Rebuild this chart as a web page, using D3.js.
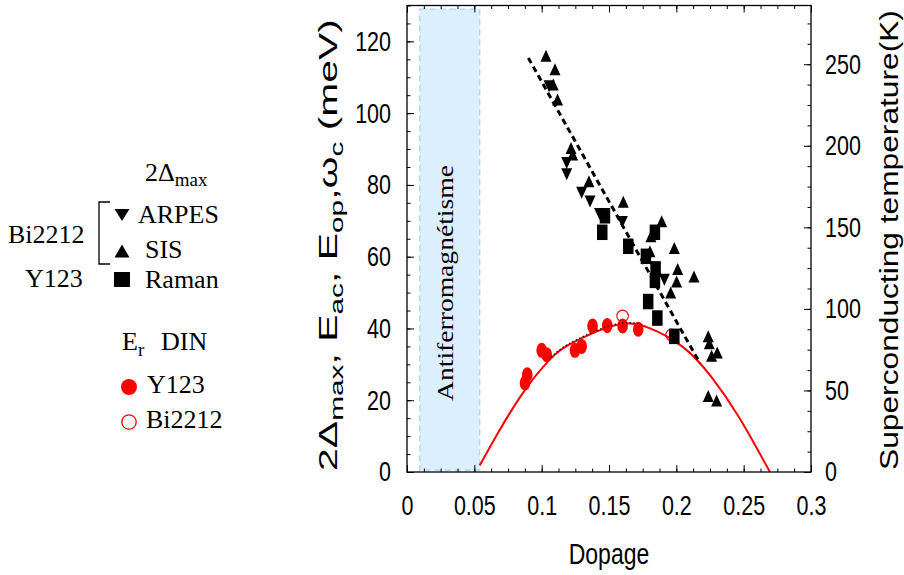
<!DOCTYPE html>
<html>
<head>
<meta charset="utf-8">
<script src="https://cdn.jsdelivr.net/npm/d3@7"></script>
<style>
  body { margin: 0; background: #fff; }
</style>
</head>
<body>
<div id="chart"></div>
<script>
// Tick values
const xTicks = [0, 0.05, 0.1, 0.15, 0.2, 0.25, 0.3];
const yLeftTicks = [0, 20, 40, 60, 80, 100, 120];
const yRightTicks = [0, 50, 100, 150, 200, 250];

// 2Δmax, Bi2212 SIS (up triangles) [doping, meV]
const sisPoints = [
  [0.1032, 116.0], [0.1099, 112.2], [0.1086, 108.0], [0.1118, 103.8],
  [0.1218, 90.3], [0.1230, 88.5], [0.1351, 81.0], [0.1606, 75.3],
  [0.1891, 69.9], [0.1811, 65.7], [0.1985, 62.4], [0.1804, 61.5],
  [0.2010, 56.6], [0.2131, 54.5], [0.2002, 53.1], [0.1958, 50.0],
  [0.2237, 37.8], [0.2245, 35.9], [0.2262, 32.4], [0.2304, 33.3],
  [0.2237, 21.2], [0.2299, 19.9]
];
// 2Δmax, Bi2212 ARPES (down triangles)
const arpesPoints = [
  [0.1055, 107.5], [0.1186, 86.1], [0.1186, 83.0], [0.1297, 77.8],
  [0.1359, 75.4], [0.1430, 71.9], [0.1599, 69.7], [0.1911, 53.6]
];
// 2Δmax, Y123 Raman (squares)
const ramanPoints = [
  [0.1470, 71.4], [0.1450, 66.8], [0.1643, 62.9], [0.1774, 60.1],
  [0.1841, 66.8], [0.1846, 56.6], [0.1841, 53.4], [0.1791, 47.5],
  [0.1859, 42.9], [0.1985, 37.8]
];
// Er DIN
const dinY123 = [
  [0.0893, 27.1], [0.0876, 24.8], [0.1000, 33.9], [0.1037, 32.7],
  [0.1247, 33.9], [0.1297, 35.0], [0.1378, 40.7], [0.1487, 40.8],
  [0.1601, 40.7], [0.1717, 39.8]
];
const dinBi2212 = [[0.1601, 43.5], [0.1965, 38.2]];

// Superconducting dome
const tcDome = [
  [0.054, 1.8], [0.067, 10.5], [0.086, 22.0], [0.106, 31.3], [0.120, 35.4],
  [0.141, 39.2], [0.161, 41.3], [0.180, 40.1], [0.205, 34.8], [0.226, 26.5],
  [0.247, 15.0], [0.2695, 0]
];
// dashed trend of the gap
const gapTrend = [[0.0901, 115.4], [0.2175, 30.3]];
// antiferromagnetic band (doping range)
const afmRange = [0.0095, 0.054];

const width = 904, height = 575;
const pL = 407, pR = 811, pT = 5.5, pB = 472;

const x = d3.scaleLinear().domain([0, 0.3]).range([pL, pR]);
const yL = d3.scaleLinear().domain([0, 130]).range([pB, pT]);
const yR = d3.scaleLinear().domain([0, 286]).range([pB, pT]);

const svg = d3.select("#chart").append("svg")
    .attr("width", width)
    .attr("height", height);

const defs = svg.append("defs");
defs.append("clipPath").attr("id", "plotClip")
  .append("rect")
    .attr("x", pL).attr("y", pT)
    .attr("width", pR - pL).attr("height", pB - pT);
defs.append("clipPath").attr("id", "dotClip")
  .append("rect")
    .attr("x", x(0.106)).attr("y", pT)
    .attr("width", x(0.175) - x(0.106)).attr("height", pB - pT);

function fitRotated(t, cx, cy, len) {
  const b = t.node().getBBox();
  const s = len / b.width;
  t.attr("transform",
    `translate(${cx},${cy}) rotate(-90) scale(${s},1) translate(${-(b.x + b.width / 2)},0)`);
}

// Antiferromagnetic band
svg.append("rect")
    .attr("x", x(afmRange[0]))
    .attr("y", yL(129))
    .attr("width", x(afmRange[1]) - x(afmRange[0]))
    .attr("height", yL(0.5) - yL(129))
    .attr("fill", "#dbefff")
    .attr("stroke", "#a6d8f7")
    .attr("stroke-width", 1.3)
    .attr("stroke-dasharray", "6,4");

const afmText = svg.append("text")
    .attr("font-family", "Liberation Serif, Times New Roman, serif")
    .attr("font-size", 22.5)
    .attr("text-anchor", "middle")
    .text("Antiferromagnétisme");
fitRotated(afmText, 453, 283, 236);

const plot = svg.append("g").attr("clip-path", "url(#plotClip)");

// Dome
const line = d3.line()
    .x(d => x(d[0]))
    .y(d => yL(d[1]))
    .curve(d3.curveNatural);

plot.append("path")
    .datum(tcDome)
    .attr("fill", "none")
    .attr("stroke", "#ff0000")
    .attr("stroke-width", 2)
    .attr("d", line);

// Y123 DIN filled
plot.selectAll(".din-y").data(dinY123).enter().append("ellipse")
    .attr("cx", d => x(d[0]))
    .attr("cy", d => yL(d[1]))
    .attr("rx", 5.3).attr("ry", 7.5)
    .attr("fill", "#ff0000");

// Bi2212 DIN open
plot.selectAll(".din-b").data(dinBi2212).enter().append("circle")
    .attr("cx", d => x(d[0]))
    .attr("cy", d => yL(d[1]))
    .attr("r", 5.8)
    .attr("fill", "none")
    .attr("stroke", "#ff0000")
    .attr("stroke-width", 1.1);

// black dotted segment over the dome
svg.append("path")
    .datum(tcDome)
    .attr("clip-path", "url(#dotClip)")
    .attr("fill", "none")
    .attr("stroke", "#000")
    .attr("stroke-width", 1.3)
    .attr("stroke-dasharray", "1.3,2.5")
    .attr("transform", "translate(0,-1)")
    .attr("d", line);

const triUp = "M0,-6 L5.5,6 L-5.5,6Z";
const triDown = "M0,6 L5.5,-6 L-5.5,-6Z";

plot.selectAll(".arpes").data(arpesPoints).enter().append("path")
    .attr("d", triDown)
    .attr("transform", d => `translate(${x(d[0])},${yL(d[1])})`)
    .attr("fill", "#000");

plot.selectAll(".sis").data(sisPoints).enter().append("path")
    .attr("d", triUp)
    .attr("transform", d => `translate(${x(d[0])},${yL(d[1])})`)
    .attr("fill", "#000");

plot.selectAll(".raman").data(ramanPoints).enter().append("rect")
    .attr("x", d => x(d[0]) - 5.25)
    .attr("y", d => yL(d[1]) - 7.75)
    .attr("width", 10.5).attr("height", 15.5)
    .attr("fill", "#000");

// Dashed trend
plot.append("path")
    .datum(gapTrend)
    .attr("fill", "none")
    .attr("stroke", "#000")
    .attr("stroke-width", 3)
    .attr("stroke-dasharray", "6,4")
    .attr("d", d3.line().x(d => x(d[0])).y(d => yL(d[1])));

// Axes
const xMinor = d3.range(0, 0.30001, 0.0125);
const yLMinor = d3.range(0, 130.001, 5);
const yRMinor = d3.range(0, 286, 12.5);
const fmtX = d => d === 0 ? "0" : String(+d.toFixed(2));
const tickFont = "Liberation Sans, Arial, Helvetica, sans-serif";

function styleAxis(g) {
  g.select(".domain").remove();
  g.selectAll("line").attr("stroke", "#000").attr("stroke-width", 1);
  g.selectAll("text")
    .attr("fill", "#000")
    .attr("font-family", tickFont)
    .attr("font-size", 21.5)
    .attr("transform", "scale(1,1.3)");
}

svg.append("g").attr("transform", `translate(0,${pB})`)
    .call(d3.axisBottom(x).tickValues(xMinor).tickSize(-3.5).tickFormat("")).call(styleAxis);
svg.append("g").attr("transform", `translate(0,${pB})`)
    .call(d3.axisBottom(x).tickValues(xTicks).tickSize(-7).tickPadding(18).tickFormat(fmtX)).call(styleAxis);
svg.append("g").attr("transform", `translate(0,${pT})`)
    .call(d3.axisTop(x).tickValues(xMinor).tickSize(-3.5).tickFormat("")).call(styleAxis);
svg.append("g").attr("transform", `translate(0,${pT})`)
    .call(d3.axisTop(x).tickValues(xTicks).tickSize(-7).tickFormat("")).call(styleAxis);

svg.append("g").attr("transform", `translate(${pL},0)`)
    .call(d3.axisLeft(yL).tickValues(yLMinor).tickSize(-3.5).tickFormat("")).call(styleAxis);
svg.append("g").attr("transform", `translate(${pL},0)`)
    .call(d3.axisLeft(yL).tickValues(yLeftTicks).tickSize(-7).tickPadding(16).tickFormat(d3.format("d"))).call(styleAxis);

svg.append("g").attr("transform", `translate(${pR},0)`)
    .call(d3.axisRight(yR).tickValues(yRMinor).tickSize(-3.5).tickFormat("")).call(styleAxis);
svg.append("g").attr("transform", `translate(${pR},0)`)
    .call(d3.axisRight(yR).tickValues(yRightTicks).tickSize(-7).tickPadding(14).tickFormat(d3.format("d"))).call(styleAxis);

// Frame
svg.append("rect")
    .attr("x", pL).attr("y", pT)
    .attr("width", pR - pL).attr("height", pB - pT)
    .attr("fill", "none")
    .attr("stroke", "#000")
    .attr("stroke-width", 1.3);

// X label
svg.append("text")
    .attr("transform", `translate(${x(0.15)},564) scale(1,1.3)`)
    .attr("text-anchor", "middle")
    .attr("font-family", tickFont)
    .attr("font-size", 23)
    .text("Dopage");

// Left Y label with subscripts
const yLab = svg.append("text")
    .attr("font-family", tickFont)
    .attr("font-size", 26)
    .attr("text-anchor", "middle");
const parts = [["2Δ", false], ["max", true], [", E", false], ["ac", true],
               [", E", false], ["op", true], [",ω", false], ["c", true], [" (meV)", false]];
parts.forEach((p, i) => {
  const prevSub = i > 0 && parts[i - 1][1];
  yLab.append("tspan")
    .attr("font-size", p[1] ? 19 : 26)
    .attr("dy", p[1] ? 6 : (prevSub ? -6 : 0))
    .text(p[0]);
});
fitRotated(yLab, 337, 245, 452);

// Right Y label
const yRLab = svg.append("text")
    .attr("font-family", tickFont)
    .attr("font-size", 26)
    .attr("text-anchor", "middle")
    .text("Superconducting temperature(K)");
fitRotated(yRLab, 898, 240, 460);

// Legend
const serif = "Liberation Serif, Times New Roman, serif";
const leg = svg.append("g").attr("font-family", serif).attr("font-size", 26).attr("fill", "#000");

const t1 = leg.append("text").attr("x", 145).attr("y", 181);
t1.append("tspan").text("2Δ");
t1.append("tspan").attr("font-size", 19).attr("dy", 5).text("max");

leg.append("path")
    .attr("d", "M110,202 H99 V264 H110")
    .attr("fill", "none").attr("stroke", "#000").attr("stroke-width", 1.3);

leg.append("path").attr("d", "M0,6 L7.5,-6 L-7.5,-6Z").attr("transform", "translate(122,215)");
leg.append("text").attr("x", 138).attr("y", 223).text("ARPES");
leg.append("path").attr("d", "M0,-6.5 L7.5,6.5 L-7.5,6.5Z").attr("transform", "translate(122,251)");
leg.append("text").attr("x", 145).attr("y", 258).text("SIS");
leg.append("text").attr("x", 8).attr("y", 243).text("Bi2212");
leg.append("text").attr("x", 25).attr("y", 287).text("Y123");
leg.append("rect").attr("x", 114).attr("y", 272).attr("width", 16).attr("height", 15);
leg.append("text").attr("x", 145).attr("y", 288).text("Raman");

const t2 = leg.append("text").attr("x", 122).attr("y", 350);
t2.append("tspan").text("E");
t2.append("tspan").attr("font-size", 19).attr("dy", 6).text("r");
t2.append("tspan").attr("dy", -6).attr("x", 161).text("DIN");

leg.append("circle").attr("cx", 129).attr("cy", 387).attr("r", 8).attr("fill", "#ff0000");
leg.append("text").attr("x", 147).attr("y", 393).text("Y123");
leg.append("circle").attr("cx", 129).attr("cy", 422).attr("r", 7.2)
    .attr("fill", "none").attr("stroke", "#ff0000").attr("stroke-width", 1.3);
leg.append("text").attr("x", 146).attr("y", 428).text("Bi2212");
</script>
</body>
</html>
